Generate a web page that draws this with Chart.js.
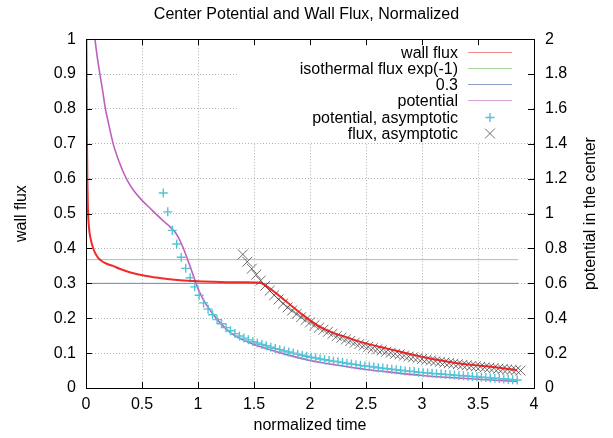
<!DOCTYPE html>
<html>
<head>
<meta charset="utf-8">
<script src="https://cdn.jsdelivr.net/npm/chart.js@4.4.1/dist/chart.umd.min.js"></script>
<style>
  html, body { margin: 0; padding: 0; background: #fff; }
</style>
</head>
<body>
<canvas id="fluxChart" width="613" height="438"></canvas>
<script>
// tick labels
const xTickLabels = ["0", "0.5", "1", "1.5", "2", "2.5", "3", "3.5", "4"];
const fluxTickLabels = ["0", "0.1", "0.2", "0.3", "0.4", "0.5", "0.6", "0.7", "0.8", "0.9", "1"];
const potentialTickLabels = ["0", "0.2", "0.4", "0.6", "0.8", "1", "1.2", "1.4", "1.6", "1.8", "2"];

// wall flux (left axis)
const fluxTime = [0.003, 0.006, 0.009, 0.012, 0.016, 0.02, 0.03, 0.04, 0.05, 0.065, 0.08, 0.1, 0.12, 0.15, 0.18,
  0.24, 0.3, 0.39, 0.54, 0.69, 0.84, 1.0, 1.2, 1.4, 1.55, 1.63, 1.78, 1.93, 2.07, 2.19, 2.33, 2.475, 2.62,
  2.77, 2.92, 3.06, 3.22, 3.37, 3.52, 3.67, 3.85];
const wallFlux = [1.02, 0.85, 0.7, 0.6, 0.53, 0.49, 0.45, 0.43, 0.416, 0.4, 0.388, 0.377, 0.369, 0.362, 0.357,
  0.35, 0.342, 0.332, 0.321, 0.314, 0.309, 0.306, 0.304, 0.303, 0.302, 0.288, 0.25, 0.211, 0.179, 0.16, 0.145, 0.13, 0.118,
  0.107, 0.095, 0.085, 0.076, 0.069, 0.064, 0.059, 0.051];

// reference levels
const levelTime = [0, 3.86];
const isothermalFlux = [0.368, 0.368];
const constantFlux = [0.3, 0.3];

// center potential (right axis)
const potentialTime = [0.07, 0.08, 0.1, 0.124, 0.15, 0.17, 0.2, 0.243, 0.3, 0.35, 0.4, 0.45, 0.5, 0.57, 0.64, 0.7,
  0.75, 0.8, 0.85, 0.9, 0.95, 1.0, 1.05, 1.12, 1.2, 1.3, 1.4, 1.5, 1.6, 1.8, 2.0, 2.25, 2.5, 2.75, 3.0, 3.25, 3.5, 3.85];
const potential = [2.06, 2.0, 1.9, 1.8, 1.7, 1.614, 1.52, 1.4, 1.29, 1.214, 1.156, 1.112, 1.076, 1.032, 0.988, 0.952,
  0.924, 0.89, 0.83, 0.75, 0.66, 0.57, 0.504, 0.436, 0.372, 0.312, 0.276, 0.25, 0.228, 0.19, 0.158, 0.13, 0.106, 0.088,
  0.072, 0.06, 0.05, 0.038];

// potential, asymptotic (right axis)
const plusTime = [0.69, 0.73, 0.77, 0.81, 0.85, 0.89, 0.93, 0.97, 1.01, 1.05,
  1.09, 1.13, 1.17, 1.21, 1.25, 1.29, 1.33, 1.37, 1.41, 1.45,
  1.49, 1.53, 1.57, 1.61, 1.65, 1.69, 1.73, 1.77, 1.81, 1.85,
  1.89, 1.93, 1.97, 2.01, 2.05, 2.09, 2.13, 2.17, 2.21, 2.25,
  2.29, 2.33, 2.37, 2.41, 2.45, 2.49, 2.53, 2.57, 2.61, 2.65,
  2.69, 2.73, 2.77, 2.81, 2.85, 2.89, 2.93, 2.97, 3.01, 3.05,
  3.09, 3.13, 3.17, 3.21, 3.25, 3.29, 3.33, 3.37, 3.41, 3.45,
  3.49, 3.53, 3.57, 3.61, 3.65, 3.69, 3.73, 3.77, 3.81, 3.85];
const potentialAsymptotic = [1.118, 1.01, 0.904, 0.826, 0.75, 0.686, 0.632, 0.58, 0.532, 0.488,
  0.452, 0.42, 0.392, 0.368, 0.346, 0.328, 0.312, 0.298, 0.286, 0.276,
  0.266, 0.258, 0.25, 0.242, 0.234, 0.226, 0.22, 0.212, 0.206, 0.2,
  0.194, 0.188, 0.182, 0.176, 0.172, 0.166, 0.162, 0.158, 0.154, 0.15,
  0.146, 0.142, 0.138, 0.134, 0.13, 0.126, 0.124, 0.12, 0.116, 0.114,
  0.11, 0.108, 0.104, 0.102, 0.098, 0.096, 0.094, 0.09, 0.088, 0.086,
  0.084, 0.082, 0.08, 0.078, 0.076, 0.074, 0.072, 0.07, 0.068, 0.066,
  0.064, 0.062, 0.06, 0.058, 0.056, 0.054, 0.052, 0.05, 0.048, 0.046];

// flux, asymptotic (left axis)
const crossTime = [1.40, 1.44, 1.48, 1.52, 1.56, 1.60, 1.64, 1.68, 1.72, 1.76,
  1.80, 1.84, 1.88, 1.92, 1.96, 2.00, 2.04, 2.08, 2.12, 2.16,
  2.20, 2.24, 2.28, 2.32, 2.36, 2.40, 2.44, 2.48, 2.52, 2.56,
  2.60, 2.64, 2.68, 2.72, 2.76, 2.80, 2.84, 2.88, 2.92, 2.96,
  3.00, 3.04, 3.08, 3.12, 3.16, 3.20, 3.24, 3.28, 3.32, 3.36,
  3.40, 3.44, 3.48, 3.52, 3.56, 3.60, 3.64, 3.68, 3.72, 3.76,
  3.80, 3.84, 3.88];
const fluxAsymptotic = [0.383, 0.362, 0.342, 0.325, 0.308, 0.293, 0.279, 0.266, 0.254, 0.242,
  0.231, 0.222, 0.212, 0.203, 0.195, 0.188, 0.180, 0.173, 0.167, 0.161,
  0.155, 0.149, 0.144, 0.139, 0.135, 0.130, 0.126, 0.122, 0.118, 0.114,
  0.111, 0.108, 0.104, 0.101, 0.098, 0.096, 0.093, 0.090, 0.088, 0.086,
  0.083, 0.081, 0.079, 0.077, 0.075, 0.073, 0.071, 0.070, 0.068, 0.066,
  0.065, 0.063, 0.062, 0.061, 0.059, 0.058, 0.057, 0.055, 0.054, 0.053,
  0.052, 0.051, 0.050];

const pts = (xs, ys) => xs.map((x, i) => ({ x: x, y: ys[i] }));

const FONT = '"Liberation Sans", Arial, Helvetica, sans-serif';
Chart.defaults.font.family = FONT;
Chart.defaults.font.size = 16;
Chart.defaults.color = "#000";

// gnuplot-like frame, inward ticks, key and axis labels
const gnuFrame = {
  id: "gnuFrame",
  beforeDatasetsDraw(chart) {
    const a = chart.chartArea, ctx = chart.ctx;
    ctx.save();
    ctx.fillStyle = "#fff";
    ctx.fillRect(a.right - 297, a.top + 1, 296, 102);
    ctx.restore();
  },
  afterDatasetsDraw(chart) {
    const a = chart.chartArea, ctx = chart.ctx;
    const sx = chart.scales.x, sy = chart.scales.y, sy2 = chart.scales.y1;
    ctx.save();
    ctx.strokeStyle = "#000";
    ctx.lineWidth = 1;
    ctx.beginPath();
    sx.ticks.forEach(t => {
      const px = Math.round(sx.getPixelForValue(t.value)) + 0.5;
      ctx.moveTo(px, a.bottom); ctx.lineTo(px, a.bottom - 6);
      ctx.moveTo(px, a.top); ctx.lineTo(px, a.top + 6);
    });
    sy.ticks.forEach(t => {
      const py = Math.round(sy.getPixelForValue(t.value)) + 0.5;
      ctx.moveTo(a.left, py); ctx.lineTo(a.left + 6, py);
    });
    sy2.ticks.forEach(t => {
      const py = Math.round(sy2.getPixelForValue(t.value)) + 0.5;
      ctx.moveTo(a.right, py); ctx.lineTo(a.right - 6, py);
    });
    ctx.stroke();
    ctx.strokeRect(Math.round(a.left) + 0.5, Math.round(a.top) + 0.5,
      Math.round(a.right - a.left), Math.round(a.bottom - a.top));

    // key
    ctx.font = "16px " + FONT;
    ctx.textAlign = "right";
    ctx.textBaseline = "middle";
    chart.data.datasets.forEach((ds, i) => {
      const y = Math.round(a.top + 12.5 + i * 16.2) + 0.5;
      ctx.fillStyle = "#000";
      ctx.fillText(ds.label, a.right - 76, y + 1);
      if (ds.showLine === false) {
        ctx.strokeStyle = ds.pointBorderColor;
        ctx.lineWidth = ds.pointBorderWidth;
        Chart.helpers.drawPoint(ctx, {
          pointStyle: ds.pointStyle, radius: ds.pointRadius, rotation: 0, borderWidth: ds.pointBorderWidth
        }, a.right - 44, y);
      } else {
        ctx.strokeStyle = ds.keyColor;
        ctx.lineWidth = 1.2;
        ctx.beginPath();
        ctx.moveTo(a.right - 66, y);
        ctx.lineTo(a.right - 22, y);
        ctx.stroke();
      }
    });
    ctx.restore();
  },
  afterDraw(chart) {
    const a = chart.chartArea, ctx = chart.ctx;
    const midY = (a.top + a.bottom) / 2;
    ctx.save();
    ctx.fillStyle = "#000";
    ctx.font = "16px " + FONT;
    ctx.textAlign = "center";
    ctx.textBaseline = "middle";
    ctx.fillText("normalized time", (a.left + a.right) / 2, 426);
    ctx.translate(22, midY);
    ctx.rotate(-Math.PI / 2);
    ctx.fillText("wall flux", 0, 0);
    ctx.restore();
    ctx.save();
    ctx.fillStyle = "#000";
    ctx.font = "16px " + FONT;
    ctx.textAlign = "center";
    ctx.textBaseline = "middle";
    ctx.translate(591, midY);
    ctx.rotate(-Math.PI / 2);
    ctx.fillText("potential in the center", 0, 0);
    ctx.restore();
  }
};

const gridStyle = { color: "#b4b4b4", lineWidth: 1, drawTicks: false };

new Chart(document.getElementById("fluxChart"), {
  type: "line",
  data: {
    datasets: [
      {
        label: "wall flux",
        data: pts(fluxTime, wallFlux),
        yAxisID: "y",
        borderColor: "rgba(240,20,20,0.9)",
        keyColor: "#f28c8c",
        borderWidth: 2,
        pointRadius: 0,
        cubicInterpolationMode: "monotone",
        order: 0,
      },
      {
        label: "isothermal flux exp(-1)",
        data: pts(levelTime, isothermalFlux),
        yAxisID: "y",
        borderColor: "#9ccf8a",
        keyColor: "#a8d69a",
        borderWidth: 1,
        pointRadius: 0,
        order: 5,
      },
      {
        label: "0.3",
        data: pts(levelTime, constantFlux),
        yAxisID: "y",
        borderColor: "#7886b8",
        keyColor: "#909cc8",
        borderWidth: 1,
        pointRadius: 0,
        order: 4,
      },
      {
        label: "potential",
        data: pts(potentialTime, potential),
        yAxisID: "y1",
        borderColor: "#c05ec0",
        keyColor: "#d8a0d4",
        borderWidth: 1.6,
        pointRadius: 0,
        cubicInterpolationMode: "monotone",
        order: 3,
      },
      {
        label: "potential, asymptotic",
        data: pts(plusTime, potentialAsymptotic),
        yAxisID: "y1",
        showLine: false,
        borderColor: "#52c4d6",
        pointStyle: "cross",
        pointRadius: 4.5,
        pointBorderWidth: 1.4,
        pointBorderColor: "#52c4d6",
        order: 2,
      },
      {
        label: "flux, asymptotic",
        data: pts(crossTime, fluxAsymptotic),
        yAxisID: "y",
        showLine: false,
        borderColor: "rgba(50,50,50,0.7)",
        pointStyle: "crossRot",
        pointRadius: 7,
        pointBorderWidth: 1,
        pointBorderColor: "rgba(50,50,50,0.7)",
        order: 1,
      },
    ],
  },
  options: {
    responsive: false,
    animation: false,
    events: [],
    layout: { padding: 0 },
    scales: {
      x: {
        type: "linear",
        min: 0,
        max: 4,
        grid: gridStyle,
        border: { display: false, dash: [1, 2] },
        ticks: {
          stepSize: 0.5,
          padding: 7,
          maxRotation: 0,
          callback: (v, i) => xTickLabels[i],
        },
        afterFit: s => { s.height = 50; },
      },
      y: {
        position: "left",
        min: 0,
        max: 1,
        grid: gridStyle,
        border: { display: false, dash: [1, 2] },
        ticks: {
          stepSize: 0.1,
          padding: 10,
          callback: (v, i) => fluxTickLabels[i],
        },
        afterFit: s => { s.width = 86; },
      },
      y1: {
        position: "right",
        min: 0,
        max: 2,
        grid: { display: false, drawTicks: false },
        border: { display: false },
        ticks: {
          stepSize: 0.2,
          padding: 11,
          callback: (v, i) => potentialTickLabels[i],
        },
        afterFit: s => { s.width = 79; },
      },
    },
    plugins: {
      legend: { display: false },
      tooltip: { enabled: false },
      title: {
        display: true,
        text: "Center Potential and Wall Flux, Normalized",
        color: "#000",
        font: { size: 16, weight: "normal" },
        padding: { top: 5, bottom: 15 },
      },
    },
  },
  plugins: [gnuFrame],
});
</script>
</body>
</html>
